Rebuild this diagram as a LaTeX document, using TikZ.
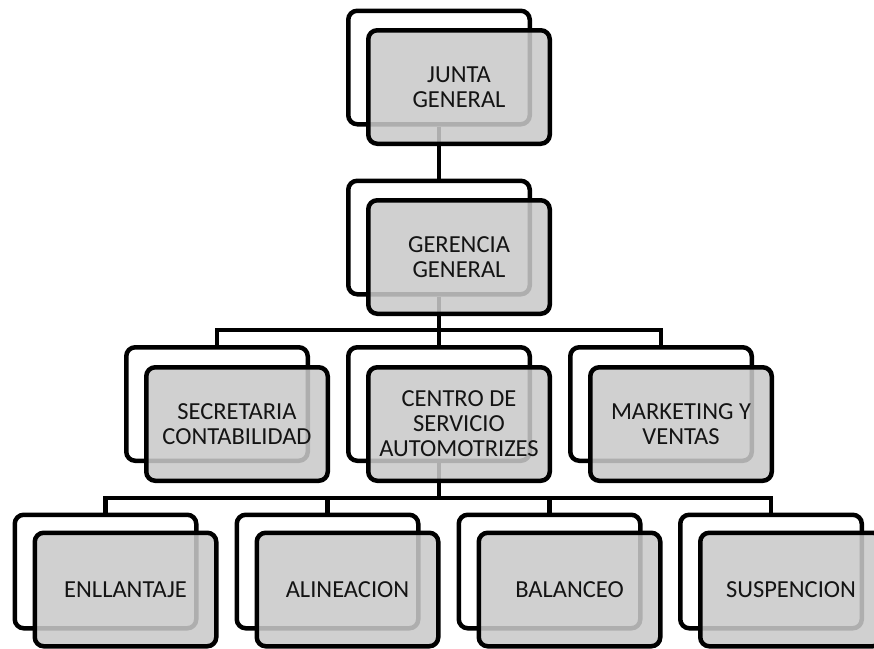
\documentclass[tikz,border=0pt]{standalone}
\usepackage{fontspec}
\setmainfont{Carlito}
\begin{document}
\begin{tikzpicture}[x=1pt,y=-1pt,
  backbox/.style={draw=black, line width=4.5pt, rounded corners=9pt,
    minimum width=181.5pt, minimum height=113.5pt, inner sep=0pt},
  frontbox/.style={backbox, fill=black!21, fill opacity=0.87, text opacity=1,
    text=black!92, align=center, font=\fontsize{24.5}{25}\selectfont},
  link/.style={draw=black, line width=4.5pt}]
\useasboundingbox (0,0) rectangle (874,648);
\clip (0,0) rectangle (874,648);

% outlined back cards
\node[backbox] (jb) at (439,67.5) {};
\node[backbox] (gb) at (439,237.5) {};
\node[backbox] (sb) at (217,404) {};
\node[backbox] (cb) at (439,404) {};
\node[backbox] (mb) at (661,404) {};
\node[backbox] (eb) at (105.5,571.5) {};
\node[backbox] (ab) at (327.5,571.5) {};
\node[backbox] (bb) at (549.5,571.5) {};
\node[backbox] (pb) at (771,571.5) {};

% bus points
\coordinate (bus1) at (439,330);
\coordinate (bus2) at (439,498);

% connectors
\draw[link] (jb.south) -- (gb.north);
\draw[link] (gb.south) -- (bus1);
\draw[link] (bus1) -| (sb.north);
\draw[link] (bus1) -| (mb.north);
\draw[link] (bus1) -- (cb.north);
\draw[link] (cb.south) -- (bus2);
\draw[link] (bus2) -| (eb.north);
\draw[link] (bus2) -| (ab.north);
\draw[link] (bus2) -| (bb.north);
\draw[link] (bus2) -| (pb.north);

% shaded front cards with the labels
\node[frontbox] (jf) at (459,87) {JUNTA\\GENERAL};
\node[frontbox] (gf) at (459,257) {GERENCIA\\GENERAL};
\node[frontbox] (sf) at (237,424) {SECRETARIA\\CONTABILIDAD};
\node[frontbox] (cf) at (459,424) {CENTRO DE\\SERVICIO\\AUTOMOTRIZES};
\node[frontbox] (mf) at (681,424) {MARKETING Y\\VENTAS};
\node[frontbox] (ef) at (125.5,589.5) {ENLLANTAJE};
\node[frontbox] (af) at (347.5,589.5) {ALINEACION};
\node[frontbox] (bf) at (569.5,589.5) {BALANCEO};
\node[frontbox] (pf) at (791,589.5) {SUSPENCION};
\end{tikzpicture}
\end{document}
